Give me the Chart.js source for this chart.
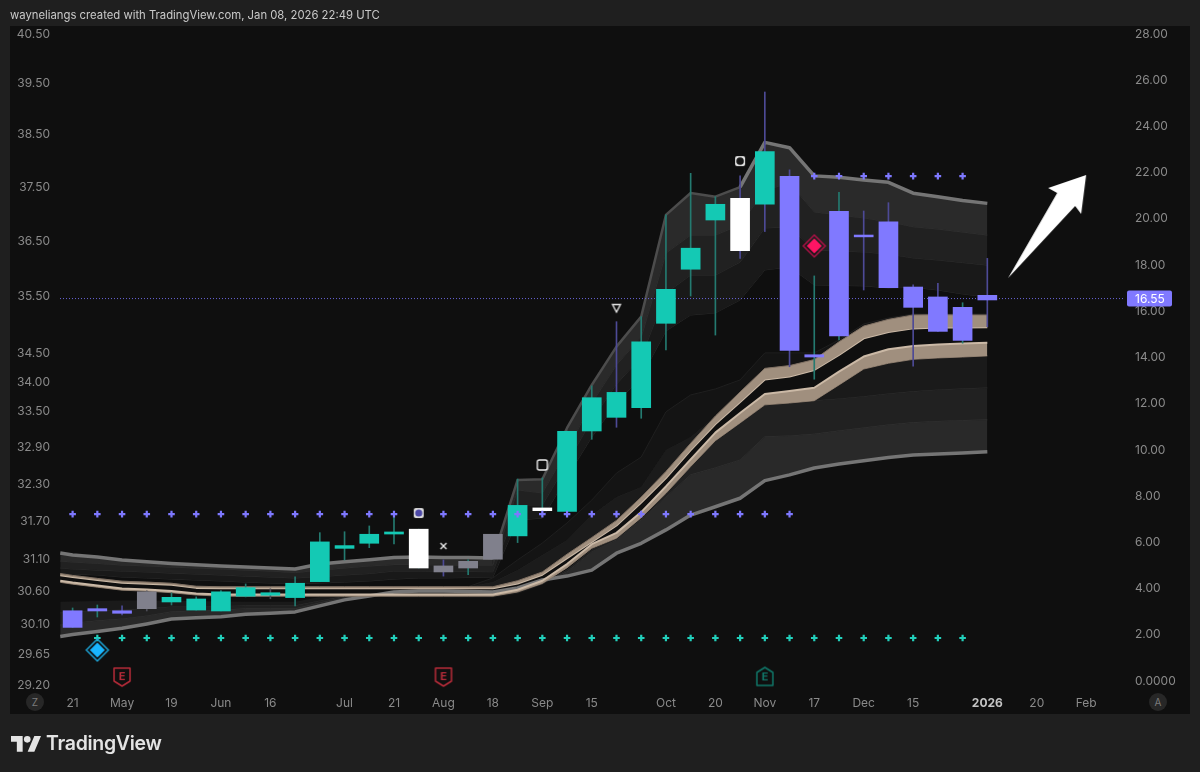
<!DOCTYPE html>
<html>
<head>
<meta charset="utf-8">
<title>TradingView chart</title>
<script src="https://cdn.jsdelivr.net/npm/chart.js@4/dist/chart.umd.min.js"></script>
<style>
html,body{margin:0;padding:0;background:#1f1f1f;width:1200px;height:772px;overflow:hidden;font-family:Inter,"Liberation Sans",sans-serif;}
#panel{position:absolute;left:10px;top:26px;width:1180px;height:688px;background:#0f0f0f;}
#chart{position:absolute;left:0;top:0;}
#title{position:absolute;left:10px;top:7px;font-size:11.3px;line-height:16px;color:#c9c9c9;white-space:nowrap;}
#clip{position:absolute;left:10px;top:689px;width:50px;height:25px;background:#0f0f0f;}
.btn{position:absolute;top:693px;width:18px;height:18px;border-radius:9px;background:#272727;color:#7c7c7c;font-size:10px;line-height:18px;text-align:center;}
#logo{position:absolute;left:11px;top:735px;}
#brand{position:absolute;left:46px;top:730px;font-size:19.5px;line-height:26px;font-weight:600;color:#e4e4e4;letter-spacing:-.3px;}
</style>
</head>
<body>
<div id="panel"></div>
<canvas id="chart" width="1200" height="772"></canvas>
<div id="title">wayneliangs created with TradingView.com, Jan 08, 2026 22:49 UTC</div>
<div id="clip"></div>
<div class="btn" style="left:26px">Z</div>
<div class="btn" style="left:1149px">A</div>
<svg id="logo" width="30" height="17" viewBox="0 0 36 20"><path fill="#e4e4e4" d="M14 20H7V8H0V1h14v19zM28 20h-8L28 1h8L28 20z"/><circle fill="#e4e4e4" cx="19.5" cy="5" r="4"/></svg>
<div id="brand">TradingView</div>
<script>
// ---------- axis ticks ----------
const leftTicks = [40.5,39.5,38.5,37.5,36.5,35.5,34.5,34,33.5,32.9,32.3,31.7,31.1,30.6,30.1,29.65,29.2];
const rightTicks = [0,2,4,6,8,10,12,14,16,18,20,22,24,26,28];
const timeIndex = [0,2,4,6,8,11,13,15,17,19,21,24,26,28,30,32,34,37,39,41];
const timeLabels = ['21','May','19','Jun','16','Jul','21','Aug','18','Sep','15','Oct','20','Nov','17','Dec','15','2026','20','Feb'];
const lastPrice = 16.55;

// ---------- weekly candles ----------
const bodyHigh = [3.04,3.13,3.04,3.86,3.62,3.55,3.86,4.04,3.82,4.23,6.02,5.86,6.35,6.45,6.57,4.98,5.18,6.35,7.60,7.49,10.81,12.26,12.49,14.68,16.95,18.73,20.63,20.89,22.91,21.84,14.12,20.33,19.30,19.87,17.05,16.62,16.17,16.69];
const bodyLow  = [2.32,3.03,2.93,3.13,3.42,3.07,3.03,3.67,3.71,3.61,4.30,5.74,5.96,6.36,4.89,4.72,4.89,5.27,6.28,7.37,7.34,10.82,11.41,11.83,15.48,17.82,19.95,18.62,20.64,14.31,14.02,14.93,19.22,17.02,16.17,15.13,14.74,16.49];
const wickHigh = [3.16,3.29,3.25,3.90,3.81,3.64,3.91,4.20,3.99,4.51,6.42,6.46,6.71,7.11,6.57,5.24,5.24,6.35,8.74,8.79,10.82,12.77,15.55,15.77,20.17,21.97,20.96,21.86,25.49,22.12,17.53,21.15,20.34,20.70,17.14,17.21,16.37,18.29];
const wickLow  = [2.32,2.77,2.86,3.03,3.29,3.07,3.03,3.64,3.56,3.25,4.30,5.24,5.77,5.93,4.89,4.54,4.60,5.27,5.99,7.37,7.34,10.46,10.98,11.37,14.33,16.66,14.97,18.29,19.45,13.60,13.06,14.76,16.92,17.02,13.63,15.13,14.62,15.33];
const bodyKind = ['p','p','p','g','t','t','t','t','t','t','t','t','t','t','w','g','g','g','t','w','t','t','t','t','t','t','t','w','t','p','p','p','p','p','p','p','p','p'];
const wickKind = ['t','t','p','g','t','t','t','t','g','t','t','t','t','t','t','p','t','g','t','t','t','t','p','t','t','t','t','p','p','p','t','t','p','p','p','p','t','p'];

// ---------- band lines (first point is the left edge, then one per candle) ----------
const lineX = [-0.5,0,1,2,3,4,5,6,7,8,9,10,11,12,13,14,15,16,17,18,19,20,21,22,23,24,25,26,27,28,29,30,31,32,33,34,35,36,37];
const upper0 = [5.54,5.45,5.37,5.24,5.16,5.09,5.03,4.98,4.93,4.89,4.85,5.06,5.16,5.25,5.34,5.37,5.35,5.34,5.32,8.70,8.73,10.95,12.81,14.47,15.77,20.17,21.12,20.96,21.37,23.31,23.08,21.86,21.80,21.68,21.58,21.11,20.96,20.79,20.67];
const upper1 = [5.19,5.15,5.09,5.02,4.98,4.93,4.89,4.85,4.80,4.76,4.69,4.80,4.89,4.98,5.04,5.04,5.02,5.02,5.02,8.27,8.14,10.00,12.03,13.68,14.89,18.52,19.30,19.30,19.74,21.25,21.55,20.30,20.17,20.04,19.88,19.66,19.56,19.43,19.30];
const upper2 = [4.89,4.85,4.80,4.76,4.72,4.67,4.63,4.59,4.54,4.50,4.46,4.52,4.59,4.65,4.76,4.76,4.74,4.74,4.73,7.62,7.62,9.44,11.30,12.85,14.02,16.79,17.57,17.57,18.13,19.61,19.65,18.65,18.61,18.57,18.48,18.31,18.22,18.11,18.00];
const upper3 = [4.67,4.63,4.59,4.50,4.46,4.41,4.37,4.33,4.28,4.24,4.20,4.24,4.28,4.33,4.41,4.46,4.46,4.48,4.50,6.97,7.05,8.83,10.56,12.03,13.16,15.15,15.84,15.93,16.49,17.79,17.92,17.14,17.12,17.10,17.01,17.04,16.92,16.75,16.62];
const upper4 = [4.65,4.57,4.44,4.32,4.28,4.23,4.10,4.08,4.08,4.08,4.08,4.08,4.08,4.08,4.08,4.08,4.08,4.08,4.46,5.24,5.97,6.84,7.83,9.00,9.69,11.65,12.38,12.64,13.03,14.20,14.20,14.20,14.76,15.45,15.71,15.88,15.88,15.88,15.88];
const upper5 = [4.65,4.57,4.44,4.32,4.28,4.23,4.10,4.08,4.08,4.08,4.08,4.08,4.08,4.08,4.08,4.08,4.08,4.08,4.28,4.80,5.45,6.10,7.18,7.96,8.40,10.00,10.56,11.47,12.51,13.53,13.65,13.91,14.68,15.36,15.65,15.84,15.85,15.84,15.84];
const tanUpTop = [4.65,4.57,4.44,4.32,4.28,4.23,4.10,4.08,4.08,4.08,4.08,4.08,4.08,4.08,4.08,4.08,4.08,4.08,4.08,4.34,4.72,5.49,6.21,6.95,7.96,9.07,10.29,11.47,12.51,13.53,13.65,13.91,14.68,15.36,15.65,15.84,15.85,15.84,15.84];
const tanUpBot = [4.58,4.50,4.37,4.25,4.21,4.16,4.03,4.01,4.01,4.01,4.01,4.01,4.01,4.01,4.01,4.01,4.01,4.01,4.01,4.22,4.60,5.32,6.02,6.73,7.72,8.78,9.99,11.12,12.07,13.05,13.18,13.46,14.11,14.83,15.10,15.26,15.30,15.30,15.31];
const tanLowTop = [4.34,4.26,4.13,4.00,3.96,3.89,3.79,3.74,3.74,3.74,3.74,3.74,3.74,3.74,3.74,3.74,3.74,3.74,3.74,3.95,4.34,5.06,5.92,6.41,7.31,8.42,9.59,10.75,11.60,12.42,12.55,12.69,13.39,14.04,14.36,14.50,14.56,14.61,14.64];
const tanLowBot = [4.27,4.19,4.06,3.93,3.89,3.82,3.72,3.67,3.67,3.67,3.67,3.67,3.67,3.67,3.67,3.67,3.67,3.67,3.67,3.85,4.22,4.90,5.74,6.18,7.07,8.12,9.28,10.40,11.17,11.95,12.03,12.13,12.81,13.50,13.75,13.92,13.98,14.02,14.07];
const lowerA = [3.43,3.44,3.46,3.48,3.48,3.46,3.46,3.44,3.43,3.43,3.43,3.64,3.66,3.68,3.61,3.61,3.61,3.61,3.61,3.78,4.17,4.84,5.70,6.15,7.05,8.11,9.28,10.40,11.17,11.95,12.03,12.13,12.81,13.50,13.75,13.92,13.98,14.02,14.07];
const lower1 = [2.94,2.99,3.03,3.07,3.12,3.20,3.20,3.22,3.25,3.25,3.25,3.46,3.66,3.68,3.77,3.72,3.72,3.72,3.72,3.85,4.20,4.80,5.67,6.15,7.05,8.09,9.26,10.39,11.12,11.92,12.01,12.12,12.20,12.30,12.42,12.52,12.59,12.64,12.68];
const lower2 = [2.42,2.49,2.60,2.68,2.81,2.99,3.03,3.07,3.12,3.12,3.12,3.38,3.59,3.72,3.83,3.81,3.81,3.81,3.81,3.94,4.24,4.72,5.58,6.10,6.97,7.96,8.92,9.22,9.56,10.57,10.60,10.68,10.82,10.95,11.08,11.18,11.23,11.27,11.30];
const lower0 = [1.93,2.01,2.14,2.28,2.47,2.68,2.74,2.78,2.89,2.93,2.99,3.25,3.51,3.68,3.85,3.90,3.90,3.87,3.85,4.03,4.37,4.54,4.80,5.53,5.96,6.54,7.18,7.54,7.91,8.67,8.92,9.22,9.39,9.53,9.67,9.78,9.82,9.87,9.92];

// ---------- dot rows ----------
const purpleLowIdx = [0,1,2,3,4,5,6,7,8,9,10,11,12,13,14,15,16,17,18,19,20,21,22,23,24,25,26,27,28,29];
const purpleLowVal = 7.22;
const purpleHighIdx = [30,31,32,33,34,35,36];
const purpleHighVal = 21.85;
const tealRowIdx = [1,2,3,4,5,6,7,8,9,10,11,12,13,14,15,16,17,18,19,20,21,22,23,24,25,26,27,28,29,30,31,32,33,34,35,36];
const tealRowVal = 1.86;

// ---------- single markers ----------
const earningsRed = [[2,0.17],[15,0.17]];
const earningsGreen = [[28,0.2]];
const blueDiamond = [[1,1.34]];
const pinkDiamond = [[30,18.83]];
const squareMark = [[19,9.35]];
const circleSquareMark = [[27,22.5]];
const filledSquareMark = [[14,7.27]];
const crossMark = [[15,5.84]];
const triangleMark = [[22,16.14]];
const arrowMark = [[39.46,19.65]];

// ---------- colours ----------
const bodyColor = {t:'#14c9b4',p:'#8079ff',g:'#80808c',w:'#ffffff'};
const wickColor = {t:'#247a70',p:'#4d4a96',g:'#4c4c56'};
const FONT = 'Inter, "Liberation Sans", sans-serif';

// ---------- point style images ----------
function icon(w,h,draw){
  const c=document.createElement('canvas');c.width=w;c.height=h;
  const g=c.getContext('2d');draw(g,w,h);return c;
}
function diamond(g,cx,cy,r){g.beginPath();g.moveTo(cx,cy-r);g.lineTo(cx+r,cy);g.lineTo(cx,cy+r);g.lineTo(cx-r,cy);g.closePath();}
function rr(g,x,y,w,h,r){g.beginPath();g.roundRect(x,y,w,h,r);}
function flag(g,color,down){
  g.save();
  if(!down){g.translate(0,24);g.scale(1,-1);}
  g.strokeStyle=color;g.lineWidth=1.5;g.lineJoin='round';
  g.beginPath();g.moveTo(3,3);g.lineTo(19,3);g.lineTo(19,16);g.lineTo(11,21);g.lineTo(3,16);g.closePath();g.stroke();
  g.restore();
  g.fillStyle=color;g.font='700 11px '+FONT;g.textAlign='center';g.textBaseline='middle';g.fillText('E',11,down?11.5:13);
}
const icons = {
  blue:icon(26,26,g=>{diamond(g,13,13,11);g.strokeStyle='#1d9ecf';g.lineWidth=1.5;g.stroke();diamond(g,13,13,7.5);g.fillStyle='#19b6ff';g.fill();}),
  pink:icon(26,26,g=>{diamond(g,13,13,11);g.strokeStyle='#a81245';g.lineWidth=1.5;g.stroke();diamond(g,13,13,7.5);g.fillStyle='#ff1464';g.fill();}),
  flagRed:icon(22,24,g=>{flag(g,'#b82c3a',true);}),
  flagGreen:icon(22,24,g=>{flag(g,'#11786a',false);}),
  square:icon(16,16,g=>{rr(g,3,3,10,10,2);g.strokeStyle='#eeeeee';g.lineWidth=1.4;g.stroke();}),
  circleSq:icon(16,16,g=>{rr(g,3,3,10,10,2);g.fillStyle='#e8e8e8';g.fill();g.beginPath();g.arc(8,8,3.8,0,7);g.fillStyle='#161616';g.fill();}),
  filledSq:icon(16,16,g=>{rr(g,3,3,10,10,2);g.fillStyle='#dddddd';g.fill();g.beginPath();g.arc(8,8,3.6,0,7);g.fillStyle='#4d49a8';g.fill();}),
  cross:icon(12,12,g=>{g.strokeStyle='#f2f2f2';g.lineWidth=1.3;g.beginPath();g.moveTo(3,3);g.lineTo(9,9);g.moveTo(9,3);g.lineTo(3,9);g.stroke();}),
  tri:icon(14,14,g=>{g.strokeStyle='#e6e6e6';g.lineWidth=1.3;g.beginPath();g.moveTo(3,3.5);g.lineTo(11,3.5);g.lineTo(7,11);g.closePath();g.stroke();}),
  arrow:icon(80,106,g=>{g.fillStyle='#ffffff';g.beginPath();g.moveTo(78,1);g.lineTo(40,14);g.lineTo(49,19);g.lineTo(0,104);g.lineTo(67,32);g.lineTo(73,40);g.closePath();g.fill();})
};

// ---------- dataset helpers ----------
const datasets = [];
let orderCounter = 400;
function bandLine(values,color,width,fillTo,fillColor){
  const ds = {type:'line',data:values.map((v,i)=>({x:lineX[i],y:v})),borderColor:color,borderWidth:width,
    pointRadius:0,tension:0,yAxisID:'yR',xAxisID:'x',order:orderCounter--,fill:false,borderJoinStyle:'round'};
  if(fillTo!==undefined){ ds.fill={target:fillTo,above:fillColor,below:fillColor}; ds.backgroundColor=fillColor; }
  datasets.push(ds);
  return datasets.length-1;
}
function marks(points,style,radius,extra){
  datasets.push(Object.assign({type:'scatter',data:points.map(p=>({x:p[0],y:p[1]})),pointStyle:style,pointRadius:radius,
    yAxisID:'yR',xAxisID:'x',order:5},extra||{}));
}

// upper zone
const iU3 = bandLine(upper3,'#2b2b2b',1);
const iU2 = bandLine(upper2,'#2e2e2e',1,iU3,'#191919');
const iU1 = bandLine(upper1,'#333333',1,iU2,'#212121');
const iU0 = bandLine(upper0,'#757575',3.5,iU1,'#2a2a2a');
// the top edge is much dimmer during the steep Sep-Oct climb
datasets[iU0].segment = {
  borderColor: c => (c.p0.parsed.x >= 17 && c.p1.parsed.x <= 27) ? '#4c4c4c' : undefined,
  borderWidth: c => (c.p0.parsed.x >= 17 && c.p1.parsed.x <= 27) ? 2.5 : undefined
};
const iTopT = bandLine(tanUpTop,'rgba(0,0,0,0)',0);
const iU5 = bandLine(upper5,'#222222',1,iTopT,'#1b1b1b');
bandLine(upper4,'#1f1f1f',1,iU5,'#141414');
// lower zone
const iLA = bandLine(lowerA,'rgba(0,0,0,0)',0);
const iL1 = bandLine(lower1,'#2e2e2e',1,iLA,'#1a1a1a');
const iL2 = bandLine(lower2,'#333333',1,iL1,'#212121');
bandLine(lower0,'#757575',3.5,iL2,'#292929');
// tan ribbons
const iTUb = bandLine(tanUpBot,'#cbb9a6',2);
bandLine(tanUpTop,'#7f7063',1,iTUb,'#a08f7e');
const iTLb = bandLine(tanLowBot,'#7f7063',1);
bandLine(tanLowTop,'#cbb9a6',2,iTLb,'#a08f7e');
// last price dotted line
datasets.push({type:'line',data:[{x:-0.51,y:lastPrice},{x:42.5,y:lastPrice}],borderColor:'#6a66d8',borderWidth:1,borderDash:[1,2],
  pointRadius:0,yAxisID:'yR',xAxisID:'x',order:60,fill:false});
// wicks
datasets.push({type:'bar',data:wickHigh.map((v,i)=>({x:i,y:[wickLow[i],v]})),backgroundColor:wickKind.map(k=>wickColor[k]),
  barThickness:1,grouped:false,yAxisID:'yR',xAxisID:'x',order:40,borderWidth:0});
// bodies
datasets.push({type:'bar',data:bodyHigh.map((v,i)=>({x:i,y:[bodyLow[i],v]})),backgroundColor:bodyKind.map(k=>bodyColor[k]),
  barThickness:19,grouped:false,yAxisID:'yR',xAxisID:'x',order:30,borderWidth:0});
// dot rows
const crossOpts = c=>({borderColor:c,backgroundColor:c,pointBorderWidth:2.2,order:20});
marks(purpleLowIdx.map(i=>[i,purpleLowVal]),'cross',3.3,crossOpts('#7e78ff'));
marks(purpleHighIdx.map(i=>[i,purpleHighVal]),'cross',3.3,crossOpts('#7e78ff'));
marks(tealRowIdx.map(i=>[i,tealRowVal]),'cross',3.3,crossOpts('#22cfbb'));
// markers
marks(earningsRed,icons.flagRed,11);
marks(earningsGreen,icons.flagGreen,11);
marks(blueDiamond,icons.blue,12);
marks(pinkDiamond,icons.pink,12);
marks(squareMark,icons.square,8);
marks(circleSquareMark,icons.circleSq,8);
marks(filledSquareMark,icons.filledSq,8);
marks(crossMark,icons.cross,6);
marks(triangleMark,icons.tri,7);
marks(arrowMark,icons.arrow,40);

// last price tag
const priceTag = {
  id:'priceTag',
  afterDraw(chart){
    const s=chart.scales.yR, y=s.getPixelForValue(lastPrice), g=chart.ctx;
    g.save();
    g.fillStyle='#8079ff';
    g.beginPath();g.roundRect(1127,y-8,45,16,2);g.fill();
    g.fillStyle='#ffffff';g.font='12px '+FONT;g.textAlign='left';g.textBaseline='middle';
    g.fillText(lastPrice.toFixed(2),1135,y+0.5);
    g.restore();
  }
};
const noPad = s=>{s.paddingTop=0;s.paddingBottom=0;s.paddingLeft=0;s.paddingRight=0;};

new Chart(document.getElementById('chart'),{
  type:'bar',
  data:{datasets},
  plugins:[priceTag],
  options:{
    responsive:false,animation:false,devicePixelRatio:1,
    layout:{autoPadding:false,padding:{left:10,right:10,top:26,bottom:58}},
    plugins:{legend:{display:false},tooltip:{enabled:false},title:{display:false}},
    events:[],
    scales:{
      x:{type:'linear',position:'bottom',min:-0.51,max:42.65,offset:false,
        grid:{display:false,drawTicks:false},border:{display:false},
        afterBuildTicks:s=>{s.ticks=timeIndex.map(v=>({value:v}));},
        afterFit:s=>{s.height=22;noPad(s);},
        ticks:{autoSkip:false,maxRotation:0,padding:4,color:c=>c.tick&&c.tick.label==='2026'?'#c4c4c4':'#8a8a8a',
          font:c=>(c.tick&&c.tick.label==='2026')?{family:FONT,size:12,weight:'700'}:{family:FONT,size:12},
          callback:v=>{const k=timeIndex.indexOf(v);return k>=0?timeLabels[k]:'';}}},
      yL:{type:'logarithmic',position:'left',min:29.097,max:40.663,
        grid:{display:false,drawTicks:false},border:{display:false},
        afterBuildTicks:s=>{s.ticks=leftTicks.map(v=>({value:v}));},
        afterFit:s=>{s.width=50;noPad(s);},
        ticks:{autoSkip:false,padding:10,color:'#8a8a8a',font:{family:FONT,size:12},callback:v=>Number(v).toFixed(2)}},
      yR:{type:'linear',position:'right',min:-0.476,max:28.346,
        grid:{display:false,drawTicks:false},border:{display:false},
        afterBuildTicks:s=>{s.ticks=rightTicks.map(v=>({value:v}));},
        afterFit:s=>{s.width=63;noPad(s);},
        ticks:{autoSkip:false,padding:8,color:'#8a8a8a',font:{family:FONT,size:12},callback:v=>v===0?'0.0000':Number(v).toFixed(2)}}
    }
  }
});
</script>
</body>
</html>
